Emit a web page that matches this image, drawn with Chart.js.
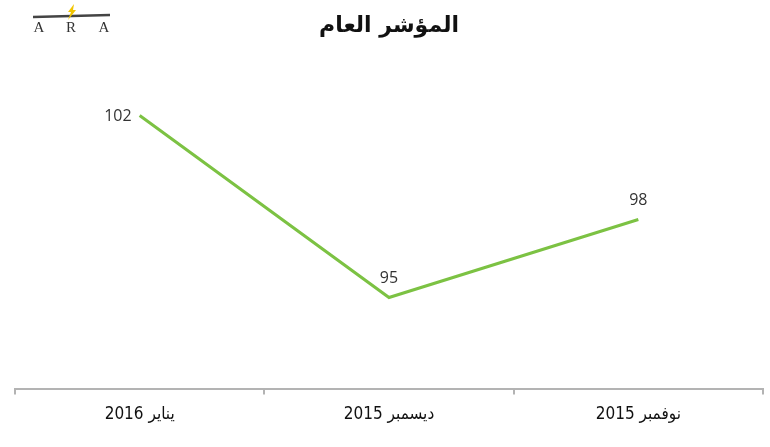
<!DOCTYPE html>
<html>
<head>
<meta charset="utf-8">
<script src="https://cdn.jsdelivr.net/npm/chart.js@4/dist/chart.umd.min.js"></script>
<style>
  html, body { margin: 0; padding: 0; background: #fff; }
  #wrap { width: 770px; height: 447px; position: relative; }
</style>
</head>
<body>
<div id="wrap"><canvas id="chart" dir="rtl"></canvas></div>
<script>
const titleText = 'المؤشر العام';
const months = ['يناير 2016', 'ديسمبر 2015', 'نوفمبر 2015'];
const indexValues = [102, 95, 98];

// value labels: "102" sits left of its point, the others above
const valueLabels = {
  id: 'valueLabels',
  afterDatasetsDraw(chart) {
    const ctx = chart.ctx;
    const meta = chart.getDatasetMeta(0);
    ctx.save();
    ctx.font = '16px "Open Sans", "DejaVu Sans"';
    ctx.fillStyle = '#333';
    ctx.textBaseline = 'middle';
    meta.data.forEach((pt, i) => {
      const txt = String(indexValues[i]);
      if (i === 0) {
        ctx.textAlign = 'right';
        ctx.fillText(txt, pt.x - 8, pt.y + 1);
      } else {
        ctx.textAlign = 'center';
        ctx.fillText(txt, pt.x, pt.y - 19);
      }
    });
    ctx.restore();
  }
};

// small ARA logo, top left
const logo = {
  id: 'logo',
  afterDraw(chart) {
    const ctx = chart.ctx;
    ctx.save();
    ctx.strokeStyle = '#444';
    ctx.lineWidth = 2.5;
    ctx.beginPath();
    ctx.moveTo(33, 17);
    ctx.lineTo(110, 15);
    ctx.stroke();
    ctx.fillStyle = '#f2c500';
    ctx.beginPath();
    ctx.moveTo(74, 4);
    ctx.lineTo(68, 12);
    ctx.lineTo(71, 12);
    ctx.lineTo(68, 20);
    ctx.lineTo(76, 10);
    ctx.lineTo(73, 10);
    ctx.closePath();
    ctx.fill();
    ctx.fillStyle = '#333';
    ctx.font = '15px "Liberation Serif", "DejaVu Serif"';
    ctx.textAlign = 'center';
    ctx.textBaseline = 'middle';
    ctx.fillText('A', 39, 28);
    ctx.fillText('R', 71, 28);
    ctx.fillText('A', 104, 28);
    ctx.restore();
  }
};

new Chart(document.getElementById('chart'), {
  type: 'line',
  data: {
    labels: months,
    datasets: [{
      data: indexValues,
      borderColor: '#7cc243',
      borderWidth: 3,
      pointRadius: 0,
      tension: 0,
      fill: false
    }]
  },
  options: {
    responsive: true,
    maintainAspectRatio: false,
    animation: false,
    layout: { padding: { left: 15, right: 7, top: 0, bottom: 12 } },
    scales: {
      x: {
        offset: true,
        grid: {
          offset: true,
          drawOnChartArea: false,
          drawTicks: true,
          tickLength: 6,
          color: '#b3b3b3',
          lineWidth: 2
        },
        border: { display: true, color: '#b3b3b3', width: 2 },
        ticks: {
          color: '#111',
          padding: 10,
          font: { family: '"DejaVu Sans Condensed", "DejaVu Sans"', size: 17 }
        }
      },
      y: {
        display: false,
        min: 91.5,
        max: 104.5
      }
    },
    plugins: {
      legend: { display: false },
      tooltip: { enabled: false },
      title: {
        display: true,
        text: titleText,
        color: '#111',
        font: { family: '"DejaVu Sans"', size: 22, weight: 'bold' },
        padding: { top: 13, bottom: 11 }
      }
    }
  },
  plugins: [valueLabels, logo]
});
</script>
</body>
</html>
